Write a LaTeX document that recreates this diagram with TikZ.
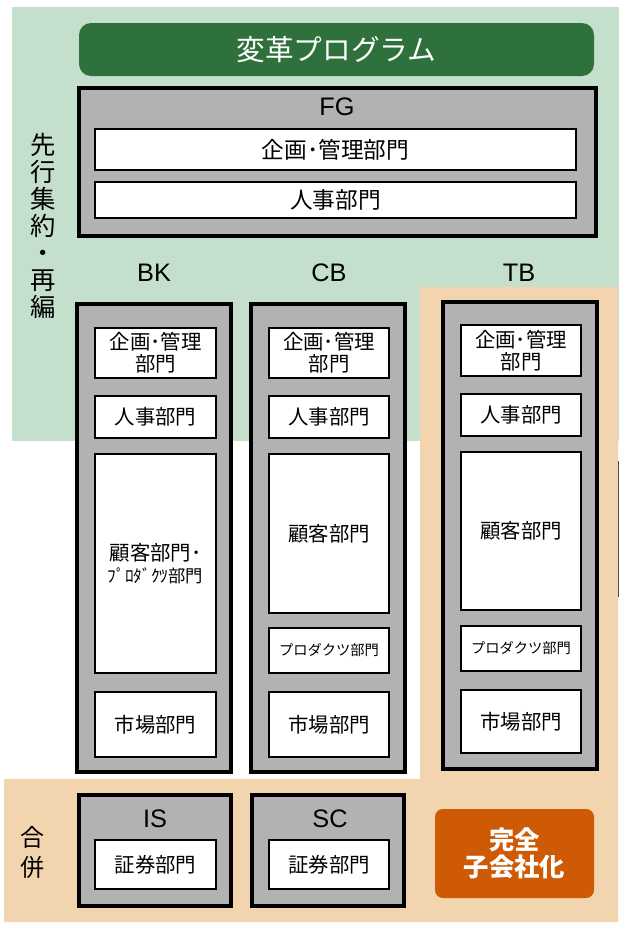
\documentclass[tikz,border=0pt]{standalone}
\usepackage{fontspec}
\setmainfont{Liberation Sans}
\newfontfamily\jp{Noto Sans CJK JP}
\definecolor{bggreen}{RGB}{196,224,205}
\definecolor{bgorange}{RGB}{242,212,174}
\definecolor{bannergreen}{RGB}{47,113,60}
\definecolor{boxgray}{RGB}{178,178,178}
\definecolor{subsid}{RGB}{206,90,6}
\tikzset{
  outerbox/.style={draw=black,line width=3pt,fill=boxgray,inner sep=0pt,outer sep=0pt},
  dept/.style={draw=black,line width=1.5pt,fill=white,inner sep=0pt,outer sep=0pt,align=center,
    font=\jp\fontsize{15.3}{16.5}\selectfont},
  fgdept/.style={dept,font=\jp\fontsize{17}{19}\selectfont},
  smalldept/.style={dept,font=\jp\fontsize{10.7}{12}\selectfont},
  lbl/.style={inner sep=0pt,font=\fontsize{19}{22}\selectfont},
  sidetext/.style={inner sep=0pt,align=center},
}
\newcommand\pbox[7]{\node[#1,minimum width={(#4-#2)*0.75pt},minimum height={(#5-#3)*0.75pt}] (#6) at ({(#2+#4)/2},{(#3+#5)/2}) {#7};}
\begin{document}
\begin{tikzpicture}[x=0.75pt,y=-0.75pt]
\useasboundingbox (0,0) rectangle (619,925);
% backgrounds
\fill[bggreen] (12,7) rectangle (619,441);
\fill[bgorange] (420,287) -- (618,287) -- (618,922) -- (4,922) -- (4,779) -- (420,779) -- cycle;
\draw[black!70,line width=0.8pt] (618.6,461) -- (618.6,597);
% banner
\pbox{fill=bannergreen,rounded corners=9pt,inner sep=0pt,text=white,font=\jp\fontsize{21.5}{24}\selectfont}{79}{23}{594}{76}{banner}{変革プログラム}
% FG
\pbox{outerbox}{79}{88}{596}{236}{fg}{}
\node[lbl] (fglbl) at (337,107) {FG};
\pbox{fgdept}{95}{129}{576}{170}{fg1}{企画･管理部門}
\pbox{fgdept}{95}{182}{576}{218}{fg2}{人事部門}
% side texts
\node[sidetext,font=\jp\fontsize{19}{20.25}\selectfont] (vt) at (43,226) {先\\行\\集\\約\\・\\再\\編};
\node[sidetext,font=\jp\fontsize{18}{22.5}\selectfont] (gp) at (33,852) {合\\併};
% column labels
\node[lbl] (bklbl) at (154,273) {BK};
\node[lbl] (cblbl) at (329,273) {CB};
\node[lbl] (tblbl) at (519,273) {TB};
% BK
\pbox{outerbox}{77}{304}{231}{772}{bk}{}
\pbox{dept}{95}{328}{216}{378}{bk1}{企画･管理\\部門}
\pbox{dept}{95}{396}{216}{438}{bk2}{人事部門}
\pbox{dept}{95}{454}{216}{673}{bk3}{顧客部門･\\{\fontsize{13}{16.5}\selectfont ﾌﾟﾛﾀﾞｸﾂ部門}}
\pbox{dept}{95}{692}{216}{757}{bk4}{市場部門}
% CB
\pbox{outerbox}{251}{304}{405}{772}{cb}{}
\pbox{dept}{269}{328}{389}{378}{cb1}{企画･管理\\部門}
\pbox{dept}{269}{396}{389}{438}{cb2}{人事部門}
\pbox{dept}{269}{454}{389}{613}{cb3}{顧客部門}
\pbox{smalldept}{269}{628}{389}{673}{cb4}{プロダクツ部門}
\pbox{dept}{269}{692}{389}{757}{cb5}{市場部門}
% TB
\pbox{outerbox}{443}{302}{597}{769}{tb}{}
\pbox{dept}{461}{325}{581}{376}{tb1}{企画･管理\\部門}
\pbox{dept}{461}{394}{581}{436}{tb2}{人事部門}
\pbox{dept}{461}{452}{581}{610}{tb3}{顧客部門}
\pbox{smalldept}{461}{626}{581}{671}{tb4}{プロダクツ部門}
\pbox{dept}{461}{690}{581}{753}{tb5}{市場部門}
% IS / SC
\pbox{outerbox}{79}{795}{231}{906}{is}{}
\node[lbl] (islbl) at (155,819) {IS};
\pbox{dept}{95}{840}{216}{889}{is1}{証券部門}
\pbox{outerbox}{252}{795}{404}{906}{sc}{}
\node[lbl] (sclbl) at (330,819) {SC};
\pbox{dept}{269}{840}{389}{889}{sc1}{証券部門}
% subsidiary
\pbox{fill=subsid,rounded corners=6pt,inner sep=0pt,align=center,text=white,font=\jp\bfseries\fontsize{19}{20.3}\selectfont}{435}{809}{594}{898}{sub}{完全\\子会社化}
\end{tikzpicture}
\end{document}
